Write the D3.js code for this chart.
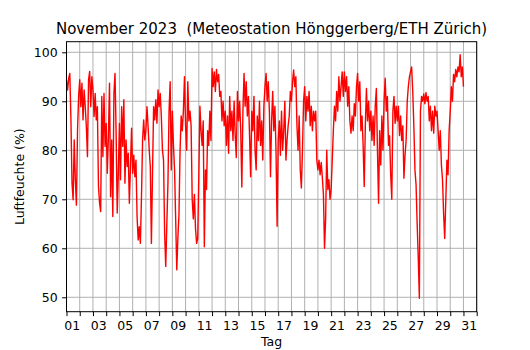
<!DOCTYPE html>
<html>
<head>
<meta charset="utf-8">
<script src="https://cdn.jsdelivr.net/npm/d3@7/dist/d3.min.js"></script>
<style>
  body { margin: 0; background: #fff; }
  svg { display: block; }
</style>
</head>
<body>
<div id="chart"></div>
<script>
// relative humidity (%), one reading every 2 hours
const week1 = [
  94.4, 92.3, 94.7, 95.7, 86.5, 73.3, 69.9, 82.1, 74, 68.8, 84.1, 91,
  94.4, 88.9, 93.7, 86.2, 92.3, 88.9, 84.8, 78.7, 94.4, 96.1, 88.9, 95,
  92.3, 86.9, 91.6, 86.2, 88.9, 72.6, 69.2, 67.5, 91, 78.7, 91.6, 80.8,
  85.5, 75.3, 82.8, 93.7, 70.5, 82.1, 66.5, 91.6, 95.7, 83.5, 67.2, 75.3,
  85.5, 74, 88.9, 80.8, 90.3, 73.3, 82.1, 76.7, 79.4, 69.2, 76.7, 84.5,
  75.3, 79, 74.6, 78, 66.5, 61.7, 64.4, 61, 70.5, 82.1, 86.2, 82.1,
  84.1, 88.9, 84.8, 80.1, 76.7, 61, 75.3, 88.9, 86.2, 90.3, 85.5, 92.3
];
const week2 = [
  88.9, 91.6, 86.9, 80.1, 78, 63, 56.3, 65, 73.3, 88, 94, 76,
  88, 81, 76, 66, 55.6, 62, 67, 80, 87, 84, 88, 95,
  85, 80, 94, 86, 88, 85, 70, 66, 71, 64, 61, 62,
  75, 89, 84, 81, 86, 60.3, 76, 72, 84, 81, 88, 82,
  96.7, 93, 96, 92, 96.5, 94, 95.5, 91, 92, 86, 90, 85,
  88, 81, 87, 79.4, 91, 84, 88, 82, 90, 83, 78.5, 92,
  86, 90, 84, 72.5, 88, 95.7, 89, 94, 87, 91, 83, 74.6
];
const week3 = [
  88, 84, 91, 80, 76, 87, 82, 90, 81, 86, 78, 89,
  93, 95.7, 90, 94, 88, 74.6, 86, 92, 84, 89, 80, 64.5,
  82, 86, 79, 88, 80, 84, 90, 78, 82, 85, 87, 92,
  90, 94, 96.4, 93, 95, 85, 80, 87, 76, 72.3, 80, 90,
  93, 86, 91, 88, 92, 85, 89, 84, 88, 86, 88, 78,
  76, 78, 75, 77.5, 74.5, 71, 60, 66, 80, 72, 74, 70,
  72, 78, 84, 89, 86, 92, 88, 95, 90, 93, 96, 91
];
const week4 = [
  96, 92, 95, 89, 93, 86, 83.5, 87, 84, 89.5, 87, 93,
  95.7, 90, 94, 84, 87, 81, 72.6, 85, 92.6, 86, 90, 84,
  88, 82, 87, 81, 89, 92.6, 80, 69.2, 84, 77, 87, 80,
  90, 94.7, 88, 91, 81, 83, 75, 70, 88, 91, 85.5, 89,
  86, 89, 83, 87, 82, 85, 74.3, 79, 82, 90, 93, 95,
  96, 97, 92, 85, 76, 73, 65, 58, 49.8, 88, 91, 90,
  91.5, 89.5, 91.8, 90, 91, 86, 89, 84, 88, 83.5, 89, 87,
  88, 84, 80, 84, 77, 74, 67, 62, 70, 78, 75, 84,
  88, 93, 90, 95.5, 94, 96.5, 95, 97, 96, 99.5, 95, 97,
  93
];

const yTicks = [50, 60, 70, 80, 90, 100];
const dayTicks = d3.range(0, 32);
const dayLabels = ['01', '03', '05', '07', '09', '11', '13', '15', '17', '19', '21', '23', '25', '27', '29', '31'];

const title = 'November 2023  (Meteostation Hönggerberg/ETH Zürich)';

const width = 530, height = 350;
const plot = { left: 66.5, right: 476.7, top: 41.7, bottom: 311.7 };

const humidity = [...week1, ...week2, ...week3, ...week4]
  .map((v, i) => ({ t: i * 2 / 24, v: v }));

const x = d3.scaleLinear([0, 31], [plot.left, plot.right]);
const y = d3.scaleLinear([47.06, 102.16], [plot.bottom, plot.top]);
const fmt = d3.format('02d');

const svg = d3.select('#chart').append('svg')
  .attr('width', width)
  .attr('height', height)
  .style('font-family', '"DejaVu Sans", sans-serif');

// grid
const grid = svg.append('g')
  .attr('stroke', '#b0b0b0')
  .attr('stroke-width', 1);

grid.selectAll('line.v')
  .data(dayTicks)
  .join('line')
    .attr('class', 'v')
    .attr('x1', d => x(d)).attr('x2', d => x(d))
    .attr('y1', plot.top).attr('y2', plot.bottom);

grid.selectAll('line.h')
  .data(yTicks)
  .join('line')
    .attr('class', 'h')
    .attr('x1', plot.left).attr('x2', plot.right)
    .attr('y1', d => y(d)).attr('y2', d => y(d));

// data
svg.append('path')
  .datum(humidity)
  .attr('fill', 'none')
  .attr('stroke', '#ff0000')
  .attr('stroke-width', 1.4)
  .attr('stroke-linejoin', 'round')
  .attr('d', d3.line().x(d => x(d.t)).y(d => y(d.v)));

// axes
const xAxis = svg.append('g')
  .attr('transform', `translate(0,${plot.bottom})`)
  .call(d3.axisBottom(x)
    .tickValues(dayTicks)
    .tickSize(4.4)
    .tickPadding(4.8)
    .tickFormat(d => dayLabels.includes(fmt(d)) ? fmt(d) : ''));

xAxis.selectAll('text')
  .attr('text-anchor', 'end');

const yAxis = svg.append('g')
  .attr('transform', `translate(${plot.left},0)`)
  .call(d3.axisLeft(y)
    .tickValues(yTicks)
    .tickSize(4.4)
    .tickPadding(4.4));

[xAxis, yAxis].forEach(g => {
  g.attr('font-family', '"DejaVu Sans", sans-serif')
    .attr('font-size', 12.5);
  g.select('.domain').remove();
  g.selectAll('.tick line').attr('stroke', '#000').attr('stroke-width', 1);
  g.selectAll('.tick text').attr('fill', '#000');
});

// frame
svg.append('rect')
  .attr('x', plot.left)
  .attr('y', plot.top)
  .attr('width', plot.right - plot.left)
  .attr('height', plot.bottom - plot.top)
  .attr('fill', 'none')
  .attr('stroke', '#000')
  .attr('stroke-width', 1);

svg.append('text')
  .attr('x', (plot.left + plot.right) / 2)
  .attr('y', 34)
  .attr('text-anchor', 'middle')
  .style('font-size', '15px')
  .style('white-space', 'pre')
  .text(title);

svg.append('text')
  .attr('x', (plot.left + plot.right) / 2)
  .attr('y', 346)
  .attr('text-anchor', 'middle')
  .style('font-size', '12.5px')
  .text('Tag');

svg.append('text')
  .attr('transform', `translate(24,${(plot.top + plot.bottom) / 2}) rotate(-90)`)
  .attr('text-anchor', 'middle')
  .style('font-size', '12.5px')
  .text('Luftfeuchte (%)');
</script>
</body>
</html>
